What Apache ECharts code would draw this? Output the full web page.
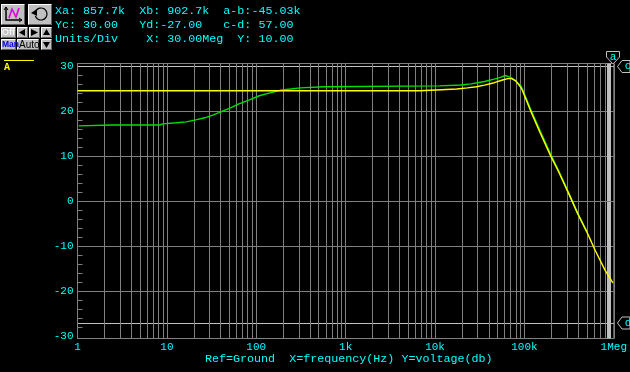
<!DOCTYPE html>
<html><head><meta charset="utf-8">
<style>html,body{margin:0;padding:0;background:#000}#c{width:630px;height:372px}</style>
<script src="https://cdn.jsdelivr.net/npm/echarts@6/dist/echarts.min.js"></script>
</head><body><div id="c"></div>
<script>
const freqA=[1,2.5,8.3,12.8,21,6800,6801,17500,23000,29000,35800,46000,57000,65000,72000,80000,91000,95000,117000,149000,196000,243000,314000,395000,501000,620000,800000,977000];
const voltA=[24.6,24.6,24.6,24.6,24.6,24.6,24.8,25,25.25,25.5,25.85,26.4,27,27.3,27.3,26.8,25.4,24.67,20.2,15.4,10.2,6.5,1.7,-2.7,-6.8,-10.9,-15.3,-18.1];
const freqB=[1.03,2.5,8.3,9,12.8,16.5,21,26.5,32.7,38.9,50,64,84,108,139,195,242,313,570,11200,19600,25300,35800,46000,54000,61000,70000,76500,91000,95000,117000,149000,196000,243000,314000,395000,501000];
const voltB=[16.8,17,17,17.25,17.5,17.7,18.15,18.6,19.2,19.8,20.7,21.7,22.6,23.5,24.07,24.8,25,25.25,25.5,25.7,25.9,26.15,26.67,27.2,27.6,28,27.6,27.1,25.7,24.95,20.55,15.8,10.55,6.7,1.8,-2.7,-6.8];
const freqGrid=[1,2,3,4,5,6,7,8,9,10,20,30,40,50,60,70,80,90,100,200,300,400,500,600,700,800,900,1e3,2e3,3e3,4e3,5e3,6e3,7e3,8e3,9e3,1e4,2e4,3e4,4e4,5e4,6e4,7e4,8e4,9e4,1e5,2e5,3e5,4e5,5e5,6e5,7e5,8e5,9e5,1e6];
const freqLabels=[1,10,100,1e3,1e4,1e5,1e6];
const freqText={1:'1',10:'10',100:'100',1000:'1k',10000:'10k',100000:'100k',1000000:'1Meg'};
const voltGrid=[-20,-10,0,10,20];
const voltLabels=[-30,-20,-10,0,10,20,30];
const voltMinor=[-28,-26,-24,-22,-18,-16,-14,-12,-8,-6,-4,-2,2,4,6,8,12,14,16,18,22,24,26,28];
const cursorsX=[857700,902700];
const cursorsY=[30,-27];
const readout=['Xa: 857.7k  Xb: 902.7k  a-b:-45.03k','Yc: 30.00   Yd:-27.00   c-d: 57.00','Units/Div    X: 30.00Meg  Y: 10.00'];
const footer='Ref=Ground  X=frequency(Hz) Y=voltage(db)';
const toXY=(f,v)=>f.map((x,i)=>[x,v[i]]);
const CY='#00ffff',GR='#808080',LG='#c0c0c0',MONO='"Liberation Mono","DejaVu Sans Mono",monospace';
const txt=(x,y,t,fill,size,extra)=>({type:'text',x,y,silent:true,style:Object.assign({text:t,fill,font:(size||11.7)+'px '+MONO,textVerticalAlign:'middle'},extra||{})});
const btn=(x,y,w,h)=>[
 {type:'rect',shape:{x,y,width:w,height:h},style:{fill:LG}},
 {type:'polyline',shape:{points:[[x+.5,y+h-.5],[x+.5,y+.5],[x+w-.5,y+.5]]},style:{stroke:'#fff',fill:null}},
 {type:'polyline',shape:{points:[[x+.5,y+h-.5],[x+w-.5,y+h-.5],[x+w-.5,y+.5]]},style:{stroke:'#606060',fill:null}}];
const tri=(p)=>({type:'polygon',shape:{points:p},style:{fill:'#000'}});
const flag=(pts,tx,ty,t)=>[{type:'polygon',shape:{points:pts},style:{fill:'#000',stroke:LG}},txt(tx,ty,t,CY,11,{textAlign:'center'})];
const g=[
 ...btn(1,4,24,21),...btn(28,4,24,21),
 {type:'polyline',shape:{points:[[6,7],[6,20],[22,20]]},style:{stroke:'#000',lineWidth:1.5,fill:null}},
 {type:'polyline',shape:{points:[[4,10],[6,7],[8,10]]},style:{stroke:'#000',fill:null}},
 {type:'polyline',shape:{points:[[19,18],[22,20],[19,22]]},style:{stroke:'#000',fill:null}},
 {type:'polyline',smooth:.6,shape:{points:[[9,18],[12,9],[14,13],[16,17],[19,8]]},style:{stroke:'#e000e0',lineWidth:1.6,fill:null}},
 {type:'arc',shape:{cx:41,cy:14,r:6,startAngle:-2.6,endAngle:2.8},style:{stroke:'#000',lineWidth:1.2,fill:null}},
 tri([[31,13],[37,9],[37,16]]),
 ...btn(1,27,15,11),...btn(17,27,11,11),...btn(29,27,11,11),...btn(41,27,11,11),
 ...btn(1,39,15,11),...btn(17,39,22,11),...btn(41,39,11,11),
 txt(2,33,'Off','#f4f4f4',9,{font:'bold 9px "Liberation Sans"'}),
 txt(2,45,'Man','#0000e0',8.5,{font:'bold 8.5px "Liberation Sans"'}),
 txt(19,45,'Auto','#000',10,{font:'10px "Liberation Sans"'}),
 tri([[25,29],[25,36],[19,32.5]]),tri([[31,29],[31,36],[38,32.5]]),tri([[46.5,29],[43,35],[50,35]]),tri([[46.5,48],[43,42],[50,42]]),
 ...readout.map((t,i)=>txt(55,11+14*i,t,CY)),
 {type:'rect',shape:{x:4,y:60,width:30,height:1},style:{fill:'#ffff00'}},
 txt(4,67,'A','#ffff00',10,{font:'bold 10px "Liberation Mono"'}),
 ...flag([[606.5,51.5],[619.5,51.5],[619.5,57],[613.5,63.5],[612.5,63.5],[606.5,57]],613,57,'a'),
 ...flag([[630,60.5],[622,60.5],[617.5,66.5],[622,72.5],[630,72.5]],628,66.5,'c'),
 ...flag([[630,317],[622,317],[617.5,323],[622,329],[630,329]],628,323,'d'),
 txt(205,359,footer,CY)
];
const chart=echarts.init(document.getElementById('c'),null,{renderer:'canvas'});
const yMin=-30.444,yMax=30.667;
const hiddenY={type:'value',min:yMin,max:yMax,axisLine:{show:false},axisLabel:{show:false}};
chart.setOption({
 animation:false,backgroundColor:'#000',
 grid:{left:77.5,right:13.5,top:63.5,height:275,show:true,borderColor:GR,borderWidth:1,backgroundColor:'transparent'},
 xAxis:[
  {type:'log',logBase:10,min:1,max:1e6,position:'bottom',axisLine:{show:true,lineStyle:{color:GR}},
   axisTick:{show:false,customValues:freqGrid},minorTick:{show:false},
   splitLine:{show:true,lineStyle:{color:GR,width:1}},
   axisLabel:{show:true,customValues:freqLabels,color:CY,fontFamily:MONO,fontSize:11,margin:3,hideOverlap:false,showMinLabel:true,showMaxLabel:true,formatter:v=>freqText[Math.round(v)]||String(v)}},
  {type:'log',logBase:10,min:1,max:1e6,position:'top',axisLine:{show:false},axisLabel:{show:false},
   axisTick:{show:false,customValues:cursorsX},splitLine:{show:true,lineStyle:{color:LG,width:2}}}
 ],
 yAxis:[
  {type:'value',min:yMin,max:yMax,axisLine:{show:true,lineStyle:{color:GR}},
   axisTick:{show:false,customValues:voltGrid},splitLine:{show:true,lineStyle:{color:GR,width:1}},
   axisLabel:{show:true,customValues:voltLabels,color:CY,fontFamily:MONO,fontSize:11,margin:4,showMinLabel:true,showMaxLabel:true,hideOverlap:false}},
  Object.assign({},hiddenY,{position:'left',axisTick:{show:true,inside:true,length:5,customValues:voltMinor,lineStyle:{color:GR}},splitLine:{show:false}}),
  Object.assign({},hiddenY,{position:'left',axisTick:{show:false,customValues:cursorsY},splitLine:{show:true,lineStyle:{color:LG,width:1}}})
 ],
 series:[
  {name:'B',type:'line',data:toXY(freqB,voltB),showSymbol:false,symbol:'none',lineStyle:{color:'#00e000',width:1.4},z:3,silent:true},
  {name:'A',type:'line',data:toXY(freqA,voltA),showSymbol:false,symbol:'none',lineStyle:{color:'#ffff00',width:1.4},z:4,silent:true}
 ],
 graphic:{elements:g}
});
</script></body></html>
